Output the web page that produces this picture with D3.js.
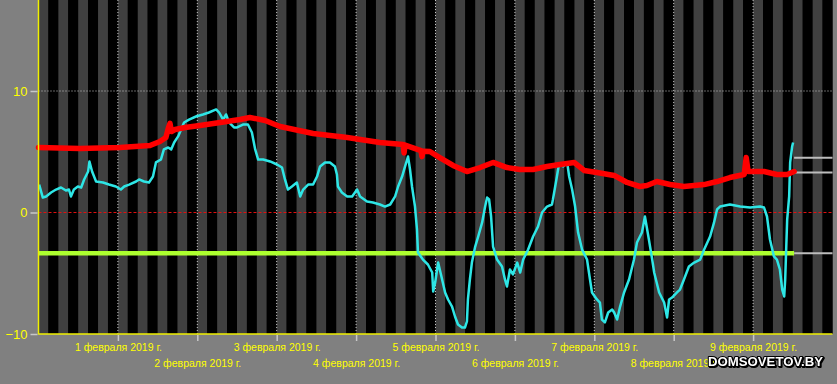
<!DOCTYPE html>
<html>
<head>
<meta charset="utf-8">
<script src="https://cdn.jsdelivr.net/npm/d3@7"></script>
<style>
html,body{margin:0;padding:0;background:#808080;}
svg{display:block;}
</style>
</head>
<body>
<svg id="chart" width="837" height="384"></svg>
<script>
// ---------- DATA ----------
// hours since 31 Jan 2019 00:00
const startDate = new Date(2019, 0, 31);
const endDate = new Date(2019, 1, 10);
const yTicks = [10, 0, -10];
const dayLabels = ["1 февраля 2019 г.","2 февраля 2019 г.","3 февраля 2019 г.","4 февраля 2019 г.","5 февраля 2019 г.","6 февраля 2019 г.","7 февраля 2019 г.","8 февраля 2019 г.","9 февраля 2019 г."];

const cyanHours = [0.2,1.3,2.3,3.8,5.3,6.8,8.3,9.2,9.8,10.7,11.9,12.9,13.8,15.0,15.4,16.2,17.4,19.5,21.3,23.4,24.9,25.9,27.4,29.5,30.4,31.9,33.4,34.6,35.5,37.0,37.9,39.2,40.1,41.0,42.2,43.1,44.0,45.5,47.6,49.7,51.5,53.7,54.6,55.8,56.7,57.6,59.1,60.0,61.8,63.3,64.5,65.5,66.4,67.9,70.0,72.1,73.6,74.5,75.4,76.6,78.1,79.1,80.0,81.5,83.0,84.2,85.1,86.6,88.1,89.6,90.2,90.5,91.7,93.3,94.8,96.3,97.2,99.3,101.1,103.2,104.7,106.3,107.8,108.7,109.9,110.8,111.7,112.3,112.9,113.8,114.4,114.7,116.2,117.7,119.0,119.3,119.9,120.8,122.0,122.9,123.8,125.0,125.9,126.8,128.0,128.9,129.5,129.8,130.4,131.0,132.0,132.9,134.1,135.0,135.6,136.2,136.8,137.4,138.6,140.1,141.0,141.6,142.5,143.4,144.7,145.6,146.5,148.0,149.5,151.0,152.2,153.7,155.2,155.5,156.7,157.3,158.6,159.8,160.4,161.3,162.2,163.1,164.3,165.8,166.7,167.3,168.8,169.7,170.3,171.2,172.2,173.4,174.0,174.9,175.8,177.0,178.5,180.0,180.9,182.4,183.3,184.5,185.5,186.1,187.6,189.1,190.0,190.6,191.5,193.0,193.9,195.1,196.6,198.2,200.0,201.2,203.0,204.2,205.1,206.0,209.0,212.1,215.1,218.1,219.3,220.2,221.1,222.3,223.2,224.1,224.8,225.4,225.7,226.3,226.9,227.2,227.8,228.1];
const cyanTemps = [2.30,1.23,1.32,1.65,1.89,2.06,1.81,1.89,1.32,1.89,2.14,2.06,2.72,3.37,4.20,3.37,2.55,2.47,2.30,2.14,1.89,2.14,2.30,2.55,2.72,2.55,2.47,2.96,4.12,4.36,5.19,5.35,5.19,5.76,6.26,6.83,7.41,7.65,7.90,8.07,8.23,8.48,8.23,7.65,8.07,7.41,7.00,7.00,7.24,7.24,6.58,5.19,4.36,4.36,4.20,3.95,3.70,2.72,1.89,2.14,2.47,1.32,1.89,2.30,2.30,2.96,3.79,4.12,4.12,3.79,3.13,2.14,1.65,1.32,1.32,1.89,1.32,0.91,0.82,0.66,0.49,0.66,1.32,2.14,2.96,3.79,4.61,3.54,2.14,0.49,-1.40,-3.29,-3.87,-4.28,-4.94,-6.50,-5.76,-4.12,-5.51,-6.58,-7.16,-7.74,-8.56,-9.22,-9.47,-9.47,-8.97,-7.16,-5.51,-4.12,-2.80,-1.98,-0.82,0.49,1.23,1.07,-0.33,-2.80,-3.87,-4.44,-5.51,-6.09,-4.69,-5.10,-4.12,-4.94,-3.87,-3.05,-1.98,-1.15,0.00,0.49,0.66,1.07,2.96,3.95,3.79,4.12,2.96,1.89,0.49,-1.65,-3.05,-3.87,-5.51,-6.58,-7.16,-7.41,-8.81,-9.05,-8.23,-7.98,-8.23,-8.81,-7.74,-6.58,-5.51,-3.87,-2.47,-1.65,-0.33,-2.22,-3.87,-4.94,-6.58,-7.41,-8.64,-7.16,-7.00,-6.58,-6.34,-5.51,-4.44,-4.12,-3.87,-3.05,-1.98,-0.82,0.25,0.49,0.66,0.49,0.41,0.49,0.41,-0.33,-2.22,-3.62,-3.87,-4.69,-6.34,-6.91,-5.51,-0.58,1.32,4.12,5.43,5.76];

const redHours = [0,12.5,24.6,33.7,36.7,38.5,39.3,39.75,40.2,41.3,44.3,48.8,54.9,60.9,63.9,68.5,73.0,83.0,93.3,103.2,110.2,110.5,110.8,115.6,115.9,116.2,118.3,121.4,125.3,129.5,133.5,137.4,141.6,145.5,149.5,153.7,157.6,161.9,164.9,168.8,174.0,177.9,181.8,183.9,186.9,190.9,195.1,201.2,205.1,209.0,213.3,213.9,214.5,219.3,223.2,226.3,228.4];
const redTemps = [5.35,5.27,5.35,5.51,5.84,6.17,7.0,7.33,6.67,6.83,7.0,7.16,7.41,7.65,7.82,7.57,7.08,6.5,6.17,5.76,5.6,4.9,5.55,5.1,4.6,5.05,5.02,4.5,3.87,3.37,3.70,4.12,3.70,3.54,3.54,3.79,3.95,4.12,3.46,3.29,3.05,2.47,2.14,2.22,2.55,2.30,2.14,2.30,2.55,2.88,3.13,4.53,3.37,3.37,3.13,3.13,3.37];

const greenLevel = -3.35;
const refLevels = [4.5, 3.3, -3.35];
const dataEndHour = 228.4;
const watermark = "DOMSOVETOV.BY";

// ---------- CHART ----------
const svg = d3.select("#chart");
const left = 38.5, right = 832.5, bottom = 334;
const hToDate = h => new Date(startDate.getTime() + h * 3600e3);

const x = d3.scaleTime().domain([startDate, endDate]).range([left, right]);
const y = d3.scaleLinear().domain([-10, 10]).range([bottom, 91]);
const topVal = y.invert(0);

svg.append("rect").attr("x", left).attr("y", 0).attr("width", right - left).attr("height", bottom).attr("fill", "#000");

// 3-hour stripes
const stripes = d3.timeHour.every(3).range(startDate, endDate);
svg.append("g").selectAll("rect").data(stripes).join("rect")
  .attr("x", d => x(d))
  .attr("y", y(topVal))
  .attr("width", d => x(d3.timeHour.offset(d, 3)) - x(d))
  .attr("height", y(-10) - y(topVal))
  .attr("fill", (d, i) => i % 2 === 0 ? "#404040" : "#000");

// day grid lines
const days = d3.timeDay.range(d3.timeDay.offset(startDate, 1), endDate);
svg.append("g").selectAll("line").data(days).join("line")
  .attr("x1", d => x(d)).attr("x2", d => x(d))
  .attr("y1", 0).attr("y2", bottom)
  .attr("stroke", "#c8c8c8").attr("stroke-width", 1).attr("stroke-dasharray", "1,2");

svg.append("line").attr("x1", left).attr("x2", right).attr("y1", y(10)).attr("y2", y(10))
  .attr("stroke", "#c8c8c8").attr("stroke-width", 1).attr("stroke-dasharray", "1,2");
svg.append("line").attr("x1", left).attr("x2", right).attr("y1", y(0)).attr("y2", y(0))
  .attr("stroke", "#e01010").attr("stroke-width", 1.2).attr("stroke-dasharray", "3,2");

// green line
svg.append("line").attr("x1", left).attr("x2", x(hToDate(dataEndHour)))
  .attr("y1", y(greenLevel)).attr("y2", y(greenLevel))
  .attr("stroke", "#adff2f").attr("stroke-width", 4.5);

// reference gray stubs on the right
svg.append("g").selectAll("line").data(refLevels).join("line")
  .attr("x1", x(hToDate(dataEndHour))).attr("x2", right)
  .attr("y1", d => y(d)).attr("y2", d => y(d))
  .attr("stroke", "#bdbdbd").attr("stroke-width", 2);

const cyanData = cyanHours.map((h, i) => [hToDate(h), cyanTemps[i]]);
const redData = redHours.map((h, i) => [hToDate(h), redTemps[i]]);
const line = d3.line().x(d => x(d[0])).y(d => y(d[1]));

svg.append("path").datum(cyanData).attr("d", line)
  .attr("fill", "none").attr("stroke", "#2ee6e6").attr("stroke-width", 2.5)
  .attr("stroke-linejoin", "round");

svg.append("path").datum(redData).attr("d", line)
  .attr("fill", "none").attr("stroke", "#ff0000").attr("stroke-width", 5.5)
  .attr("stroke-linejoin", "round").attr("stroke-linecap", "round");

// axes lines (yellow)
svg.append("line").attr("x1", left).attr("x2", left).attr("y1", 0).attr("y2", bottom + 0.5)
  .attr("stroke", "#f0f000").attr("stroke-width", 1.5);
svg.append("line").attr("x1", left).attr("x2", right).attr("y1", bottom).attr("y2", bottom)
  .attr("stroke", "#f0f000").attr("stroke-width", 1.5);

// y axis
const yAxis = d3.axisLeft(y).tickValues(yTicks).tickSize(7).tickPadding(3).tickFormat(d3.format("d"));
const gy = svg.append("g").attr("transform", `translate(${left - 1},0)`).call(yAxis);
gy.select(".domain").remove();
gy.selectAll(".tick line").attr("stroke", "#c8c8c8").attr("stroke-width", 1.5);
gy.selectAll(".tick text").attr("fill", "#ffff00").attr("font-family", "Liberation Sans, Arial, sans-serif").attr("font-size", 13);

// x axis
const xAxis = d3.axisBottom(x).tickValues(days).tickSize(6).tickFormat((d, i) => dayLabels[i]);
const gx = svg.append("g").attr("transform", `translate(0,${bottom + 1})`).call(xAxis);
gx.select(".domain").remove();
gx.selectAll(".tick line").attr("stroke", "#c8c8c8").attr("stroke-width", 1.5);
gx.selectAll(".tick text").attr("fill", "#ffff00")
  .attr("font-family", "Liberation Sans, Arial, sans-serif").attr("font-size", 10.5)
  .attr("y", (d, i) => i % 2 === 0 ? 9 : 25).attr("dy", "0.71em");

// watermark (single text with dark outline + shadow)
svg.append("text")
  .attr("x", 708).attr("y", 366)
  .attr("font-family", "Liberation Sans, Arial, sans-serif").attr("font-weight", "bold").attr("font-size", 13.2)
  .attr("fill", "#fff").attr("stroke", "#000").attr("stroke-width", 2.2)
  .attr("paint-order", "stroke").attr("stroke-linejoin", "round")
  .style("filter", "drop-shadow(1px 1px 0 #000)")
  .text(watermark);
</script>
</body>
</html>
